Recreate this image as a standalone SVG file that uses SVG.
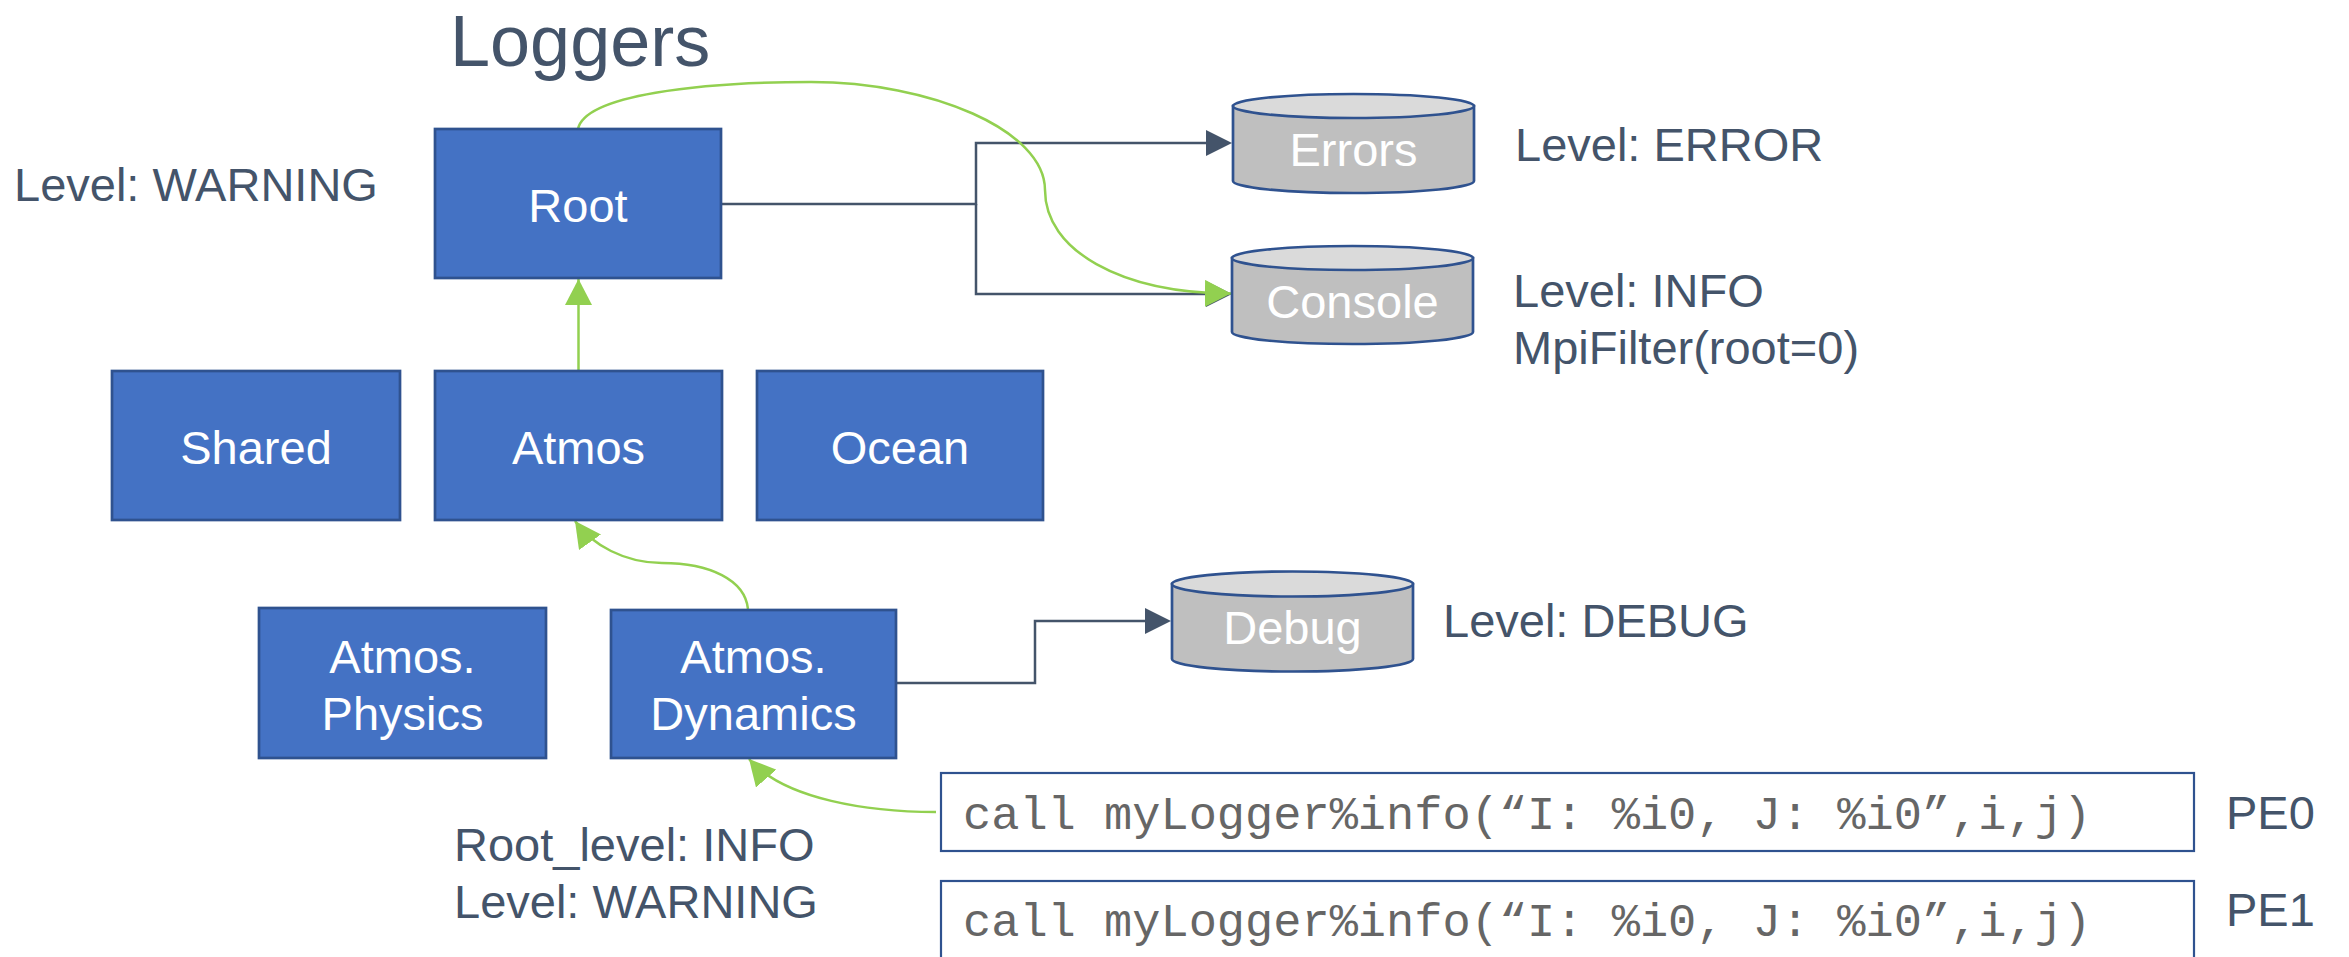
<svg xmlns="http://www.w3.org/2000/svg" width="2349" height="957" viewBox="0 0 2349 957">
<style>
.box{fill:#4472C4;stroke:#2F528F;stroke-width:2.7}
.bt{fill:#FFFFFF;font-family:"Liberation Sans",Arial,sans-serif;font-size:47px;text-anchor:middle}
.lbl{fill:#44546A;font-family:"Liberation Sans",Arial,sans-serif;font-size:47px}
.code{fill:#666666;font-family:"Liberation Mono","Courier New",monospace;font-size:47px}
.cbox{fill:#FFFFFF;stroke:#2F528F;stroke-width:2.2}
.cylb{fill:#BFBFBF;stroke:#2F528F;stroke-width:2.7}
.cylt{fill:#DADADA;stroke:#2F528F;stroke-width:2.7}
.conn{fill:none;stroke:#44546A;stroke-width:2.5}
.grn{fill:none;stroke:#92D050;stroke-width:2.5}
</style>
<defs>
<marker id="ad" markerWidth="26" markerHeight="26" refX="0" refY="13" orient="auto" markerUnits="userSpaceOnUse"><path d="M0,0 L26,13 L0,26 z" fill="#44546A"/></marker>
<marker id="ag" markerWidth="27" markerHeight="27" refX="26" refY="13.5" orient="auto" markerUnits="userSpaceOnUse"><path d="M0,0 L26,13.5 L0,27 z" fill="#92D050"/></marker>
</defs>
<rect width="2349" height="957" fill="#FFFFFF"/>
<text id="title" x="450" y="66" fill="#44546A" font-family="'Liberation Sans',Arial,sans-serif" font-size="72">Loggers</text>

<g id="connectors">
<path class="conn" d="M721,204 H976 V143 H1206" marker-end="url(#ad)"/>
<path class="conn" d="M976,204 V294 H1206" marker-end="url(#ad)"/>
<path class="conn" d="M896,683 H1035 V621 H1145" marker-end="url(#ad)"/>
<path class="grn" d="M578.5,371 V279" marker-end="url(#ag)"/>
<path class="grn" d="M578,129 C585,95 700,82 811,82 C930,82 1045,130 1045,190 C1045,250 1120,293 1231,293.5" marker-end="url(#ag)"/>
<path class="grn" d="M748,609 C745,580 710,563 662,563 C625,563 592,545 575,521" marker-end="url(#ag)"/>
<path class="grn" d="M936,812 C870,812 785,800 749,759" marker-end="url(#ag)"/>
</g>

<g id="root"><rect class="box" x="435" y="129" width="286" height="149"/><text class="bt" x="578" y="222">Root</text></g>
<text id="root-level" class="lbl" x="14" y="201">Level: WARNING</text>

<g id="shared"><rect class="box" x="112" y="371" width="288" height="149"/><text class="bt" x="256" y="464">Shared</text></g>
<g id="atmos"><rect class="box" x="435" y="371" width="287" height="149"/><text class="bt" x="578.5" y="464">Atmos</text></g>
<g id="ocean"><rect class="box" x="757" y="371" width="286" height="149"/><text class="bt" x="900" y="464">Ocean</text></g>

<g id="atmos-physics"><rect class="box" x="259" y="608" width="287" height="150"/><text class="bt" x="402.5" y="673">Atmos.</text><text class="bt" x="402.5" y="730">Physics</text></g>
<g id="atmos-dynamics"><rect class="box" x="611" y="610" width="285" height="148"/><text class="bt" x="753.5" y="673">Atmos.</text><text class="bt" x="753.5" y="730">Dynamics</text></g>

<g id="errors">
<path class="cylb" d="M1233,106 V181 A120.5,12 0 0 0 1474,181 V106 Z"/>
<ellipse class="cylt" cx="1353.5" cy="106" rx="120.5" ry="12"/>
<text class="bt" x="1353.5" y="166">Errors</text>
</g>
<text id="errors-level" class="lbl" x="1515" y="161">Level: ERROR</text>

<g id="console">
<path class="cylb" d="M1232,258 V332 A120.5,12 0 0 0 1473,332 V258 Z"/>
<ellipse class="cylt" cx="1352.5" cy="258" rx="120.5" ry="12"/>
<text class="bt" x="1352.5" y="318">Console</text>
</g>
<text class="lbl" x="1513" y="307">Level: INFO</text>
<text class="lbl" x="1513" y="364">MpiFilter(root=0)</text>

<g id="debug">
<path class="cylb" d="M1172,584 V659 A120.5,12.5 0 0 0 1413,659 V584 Z"/>
<ellipse class="cylt" cx="1292.5" cy="584" rx="120.5" ry="12.5"/>
<text class="bt" x="1292.5" y="644">Debug</text>
</g>
<text class="lbl" x="1443" y="637">Level: DEBUG</text>

<g id="code-pe0"><rect class="cbox" x="941" y="773" width="1253" height="78"/><text class="code" x="963" y="829">call myLogger%info(“I: %i0, J: %i0”,i,j)</text></g>
<text class="lbl" x="2226" y="829">PE0</text>
<g id="code-pe1"><rect class="cbox" x="941" y="881" width="1253" height="90"/><text class="code" x="963" y="936">call myLogger%info(“I: %i0, J: %i0”,i,j)</text></g>
<text class="lbl" x="2226" y="926">PE1</text>

<text class="lbl" x="454" y="861">Root_level: INFO</text>
<text class="lbl" x="454" y="918">Level: WARNING</text>
</svg>
